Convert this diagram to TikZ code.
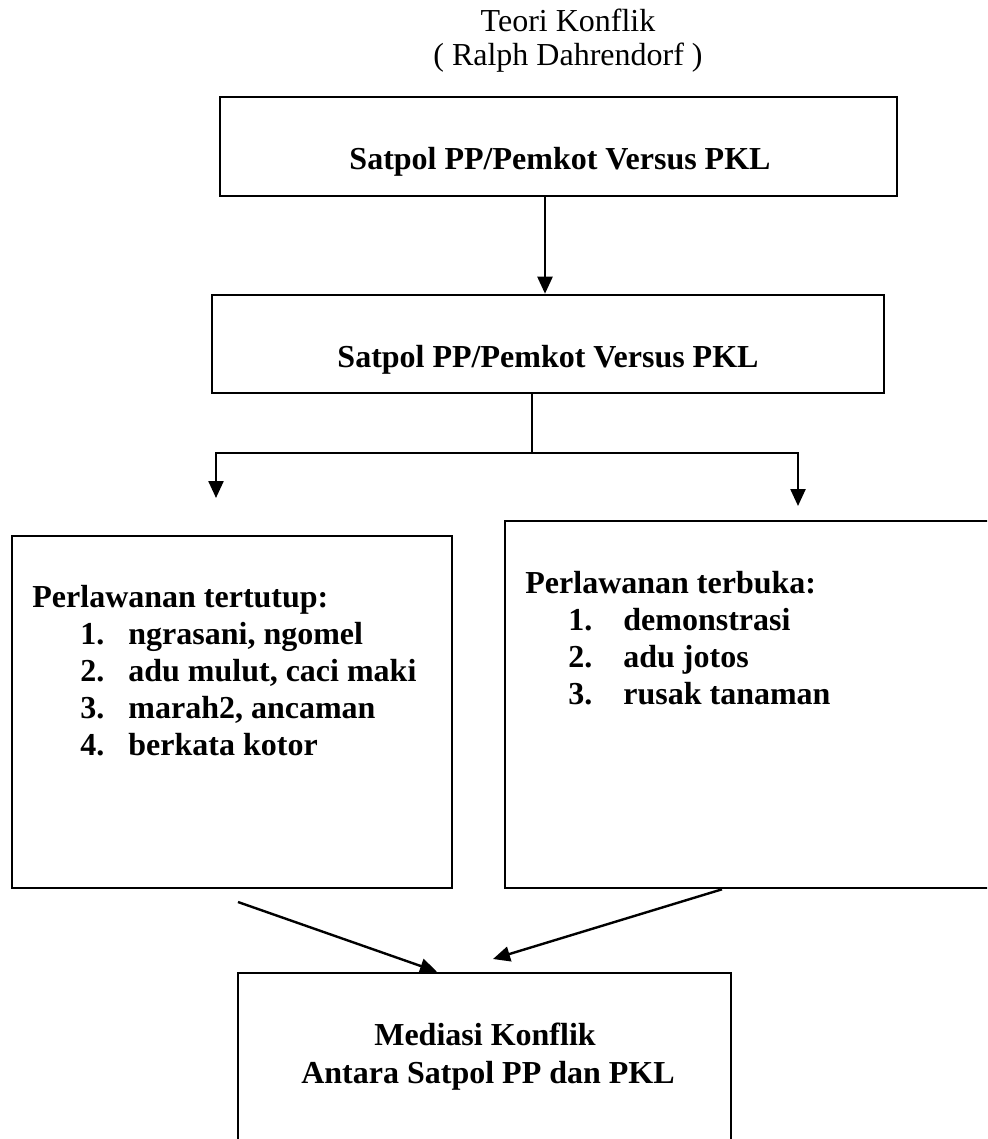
\documentclass[tikz,border=0pt]{standalone}
\usepackage{fontspec}
\setmainfont{Liberation Serif}
\usepackage{tikz}
\usetikzlibrary{arrows.meta}

\begin{document}
\begin{tikzpicture}[x=0.5pt, y=-0.5pt,
  kotak/.style={draw, line width=1.3pt, inner sep=0pt},
  judul/.style={font=\fontsize{16}{18.5}\selectfont, anchor=base, inner sep=0pt},
  tebal/.style={font=\bfseries\fontsize{16}{18.5}\selectfont, anchor=base, inner sep=0pt},
  poin/.style={font=\bfseries\fontsize{16}{18.5}\selectfont, anchor=base west, inner sep=0pt},
  garis/.style={line width=1.2pt},
  panah/.style={line width=1.2pt, -{Triangle[length=8.5pt, width=7.5pt]}}]
  \useasboundingbox (0,0) rectangle (987,1139);
  \clip (0,0) rectangle (987,1139);
  \node[judul] (teori) at (568,32) {Teori Konflik};
  \node[judul] (ralph) at (568,66) {( Ralph Dahrendorf )};
  \node[kotak, minimum width=338.5pt, minimum height=49.5pt] (versus) at (558.5,146.5) {};
  \node[tebal] (versusteks) at (560,170) {Satpol PP/Pemkot Versus PKL};
  \node[kotak, minimum width=336pt, minimum height=49pt] (versusb) at (548,344) {};
  \node[tebal] (versusbteks) at (548,367) {Satpol PP/Pemkot Versus PKL};
  \node[kotak, minimum width=220pt, minimum height=176pt] (tertutup) at (232,712) {};
  \node[poin] (tutupjudul) at (32,607) {Perlawanan tertutup:};
  \node[poin] (tutup1) at (80,644) {\makebox[24pt][l]{1.}ngrasani, ngomel};
  \node[poin] (tutup2) at (80,681) {\makebox[24pt][l]{2.}adu mulut, caci maki};
  \node[poin] (tutup3) at (80,718) {\makebox[24pt][l]{3.}marah2, ancaman};
  \node[poin] (tutup4) at (80,755) {\makebox[24pt][l]{4.}berkata kotor};
  \node[kotak, minimum width=252.5pt, minimum height=183.5pt] (terbuka) at (757.5,704.5) {};
  \node[poin] (bukajudul) at (525,593) {Perlawanan terbuka:};
  \node[poin] (buka1) at (568,630) {\makebox[27.5pt][l]{1.}demonstrasi};
  \node[poin] (buka2) at (568,667) {\makebox[27.5pt][l]{2.}adu jotos};
  \node[poin] (buka3) at (568,704) {\makebox[27.5pt][l]{3.}rusak tanaman};
  \node[kotak, minimum width=246.5pt, minimum height=93.5pt] (mediasi) at (484.5,1066.5) {};
  \node[tebal] (mediasi1) at (485,1045) {Mediasi Konflik};
  \node[tebal] (mediasi2) at (488,1083) {Antara Satpol PP dan PKL};
  \coordinate (turun) at (545,0);
  \coordinate (cabang) at (532,453);
  \coordinate (kiri) at (216,498);
  \coordinate (kanan) at (798,506);
  \coordinate (mulai) at (238,902);
  \coordinate (masuk) at (437,0);
  \coordinate (keluar) at (722,0);
  \coordinate (ujung) at (493,959);
  \draw[panah] (versus.south -| turun) -- (versusb.north -| turun);
  \draw[garis] (versusb.south -| cabang) -- (cabang);
  \draw[panah] (cabang) -| (kiri);
  \draw[panah] (cabang) -| (kanan);
  \draw[panah] (mulai) -- (mediasi.north -| masuk);
  \draw[panah] (terbuka.south -| keluar) -- (ujung);
\end{tikzpicture}
\end{document}
